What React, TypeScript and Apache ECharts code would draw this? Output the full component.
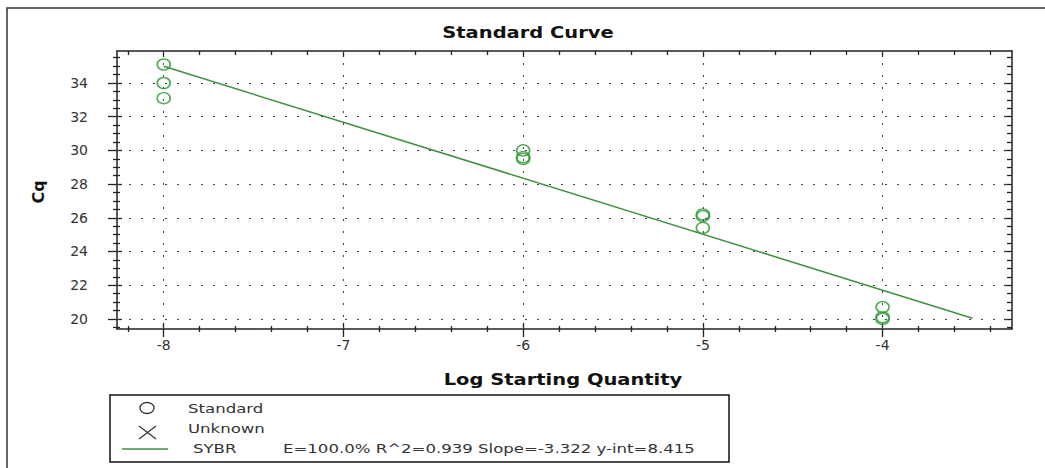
import React, { useEffect, useRef } from "react";
import * as echarts from "echarts";

// ---- data ----
const logQuantity = [-8, -8, -8, -6, -6, -6, -5, -5, -5, -4, -4, -4];
const cqValues = [35.1, 34.0, 33.1, 30.0, 29.6, 29.5, 26.2, 26.1, 25.4, 20.7, 20.1, 20.0];
const xTickLabels = [-8, -7, -6, -5, -4];
const yTickLabels = [20, 22, 24, 26, 28, 30, 32, 34];
const fitSlope = -3.322;
const fitIntercept = 8.415;
const fitRange = [-8, -3.5];
const legendNames = ["Standard", "Unknown", "SYBR"];
const fitText = "E=100.0% R^2=0.939 Slope=-3.322 y-int=8.415";

const X_MIN = -8.26;
const X_MAX = -3.28;
const Y_MIN = 19.4;
const Y_MAX = 35.9;

const xMinorTicks: number[] = [];
for (let i = -41; i <= -17; i++) if (i % 5 !== 0) xMinorTicks.push(i / 5);
const yMinorTicks: number[] = [];
for (let i = 39; i <= 71; i++) if (i % 4 !== 0) yMinorTicks.push(i / 2);

const AXIS_COLOR = "#222";
const FONT = '"DejaVu Sans", "Liberation Sans", sans-serif';

function makeAxis(kind: "x" | "y", position: string, o: any) {
  return {
    type: "value",
    gridIndex: 0,
    position,
    min: kind === "x" ? X_MIN : Y_MIN,
    max: kind === "x" ? X_MAX : Y_MAX,
    axisLine: { show: !!o.line, onZero: false, lineStyle: { color: AXIS_COLOR, width: 1.5 } },
    axisTick: {
      show: true,
      inside: !!o.inside,
      length: o.len,
      customValues: o.ticks,
      lineStyle: { color: AXIS_COLOR, width: 1.3 },
    },
    axisLabel: o.labels
      ? {
          show: true,
          customValues: o.labels,
          margin: o.margin,
          fontSize: 14,
          color: "#333",
          fontFamily: FONT,
        }
      : { show: false },
    splitLine: { show: false },
    axisPointer: { show: false },
  };
}

export default function App() {
  const ref = useRef<HTMLDivElement>(null);

  useEffect(() => {
    if (!ref.current) return;
    const chart = echarts.init(ref.current, null, { renderer: "svg" });

    const gridMarks = [
      ...xTickLabels.map((v) => ({ xAxis: v })),
      ...yTickLabels.map((v) => ({ yAxis: v })),
    ];

    const option: any = {
      animation: false,
      backgroundColor: "#ffffff",
      grid: { left: 117, right: 33, top: 51, bottom: 139, containLabel: false },
      xAxis: [
        makeAxis("x", "bottom", { line: true, len: 8, ticks: xTickLabels, labels: xTickLabels, margin: 9 }),
        makeAxis("x", "bottom", { inside: true, len: 6, ticks: xTickLabels }),
        makeAxis("x", "bottom", { len: 3, ticks: xMinorTicks }),
        makeAxis("x", "bottom", { inside: true, len: 3, ticks: xMinorTicks }),
        makeAxis("x", "top", { line: true, inside: true, len: 6, ticks: xTickLabels }),
        makeAxis("x", "top", { inside: true, len: 4, ticks: xMinorTicks }),
      ],
      yAxis: [
        makeAxis("y", "left", { line: true, len: 9, ticks: yTickLabels, labels: yTickLabels, margin: 29 }),
        makeAxis("y", "left", { inside: true, len: 5, ticks: yTickLabels }),
        makeAxis("y", "left", { len: 4, ticks: yMinorTicks }),
        makeAxis("y", "left", { inside: true, len: 3, ticks: yMinorTicks }),
        makeAxis("y", "right", { line: true, inside: true, len: 8, ticks: yTickLabels }),
        makeAxis("y", "right", { inside: true, len: 5, ticks: yMinorTicks }),
      ],
      series: [
        {
          type: "scatter",
          name: legendNames[0],
          xAxisIndex: 0,
          yAxisIndex: 0,
          data: logQuantity.map((x, i) => [x, cqValues[i]]),
          symbol: "circle",
          symbolSize: [13, 11],
          itemStyle: { color: "rgba(0,0,0,0)", borderColor: "#2f9a34", borderWidth: 1.6 },
          silent: true,
          markLine: {
            silent: true,
            symbol: ["none", "none"],
            label: { show: false },
            lineStyle: { type: [2, 10], color: "#444", width: 1 },
            emphasis: { disabled: true },
            data: gridMarks,
          },
        },
        {
          type: "line",
          name: legendNames[2],
          xAxisIndex: 0,
          yAxisIndex: 0,
          data: fitRange.map((x) => [x, fitIntercept + fitSlope * x]),
          showSymbol: false,
          symbol: "none",
          lineStyle: { color: "#3e8f3e", width: 1.5 },
          silent: true,
        },
      ],
      graphic: [
        {
          type: "rect",
          shape: { x: 7, y: 8, width: 1100, height: 500 },
          style: { fill: "none", stroke: "#333", lineWidth: 1.5 },
          silent: true,
        },
        {
          type: "text",
          x: 528,
          y: 33,
          scaleX: 1.3,
          style: {
            text: "Standard Curve",
            font: `bold 15px ${FONT}`,
            fill: "#111",
            align: "center",
            verticalAlign: "middle",
            textAlign: "center",
            textVerticalAlign: "middle",
          },
        },
        {
          type: "text",
          x: 563,
          y: 380,
          scaleX: 1.3,
          style: {
            text: "Log Starting Quantity",
            font: `bold 15px ${FONT}`,
            fill: "#111",
            align: "center",
            verticalAlign: "middle",
            textAlign: "center",
            textVerticalAlign: "middle",
          },
        },
        {
          type: "text",
          x: 38,
          y: 192,
          rotation: Math.PI / 2,
          style: {
            text: "Cq",
            font: `bold 16px ${FONT}`,
            fill: "#111",
            align: "center",
            verticalAlign: "middle",
            textAlign: "center",
            textVerticalAlign: "middle",
          },
        },
        // legend box
        {
          type: "rect",
          shape: { x: 110, y: 395, width: 619, height: 67 },
          style: { fill: "#fff", stroke: "#111", lineWidth: 1.5 },
        },
        {
          type: "ellipse",
          shape: { cx: 147, cy: 408, rx: 7, ry: 5.5 },
          style: { fill: "none", stroke: "#333", lineWidth: 1.3 },
        },
        {
          type: "line",
          shape: { x1: 139, y1: 426, x2: 156, y2: 439 },
          style: { stroke: "#333", lineWidth: 1.2 },
        },
        {
          type: "line",
          shape: { x1: 139, y1: 439, x2: 156, y2: 426 },
          style: { stroke: "#333", lineWidth: 1.2 },
        },
        {
          type: "line",
          shape: { x1: 122, y1: 449, x2: 168, y2: 449 },
          style: { stroke: "#3e8f3e", lineWidth: 1.5 },
        },
        ...[
          { t: legendNames[0], x: 188, y: 409 },
          { t: legendNames[1], x: 188, y: 429 },
          { t: legendNames[2], x: 193, y: 449 },
          { t: fitText, x: 283, y: 449 },
        ].map((d) => ({
          type: "text",
          x: d.x,
          y: d.y,
          scaleX: 1.38,
          style: {
            text: d.t,
            font: `12px ${FONT}`,
            fill: "#333",
            align: "left",
            verticalAlign: "middle",
            textAlign: "left",
            textVerticalAlign: "middle",
          },
        })),
      ],
    };

    chart.setOption(option);
    return () => chart.dispose();
  }, []);

  return (
    <div
      ref={ref}
      style={{ position: "fixed", left: 0, top: 0, width: 1045, height: 468, background: "#fff" }}
    />
  );
}
